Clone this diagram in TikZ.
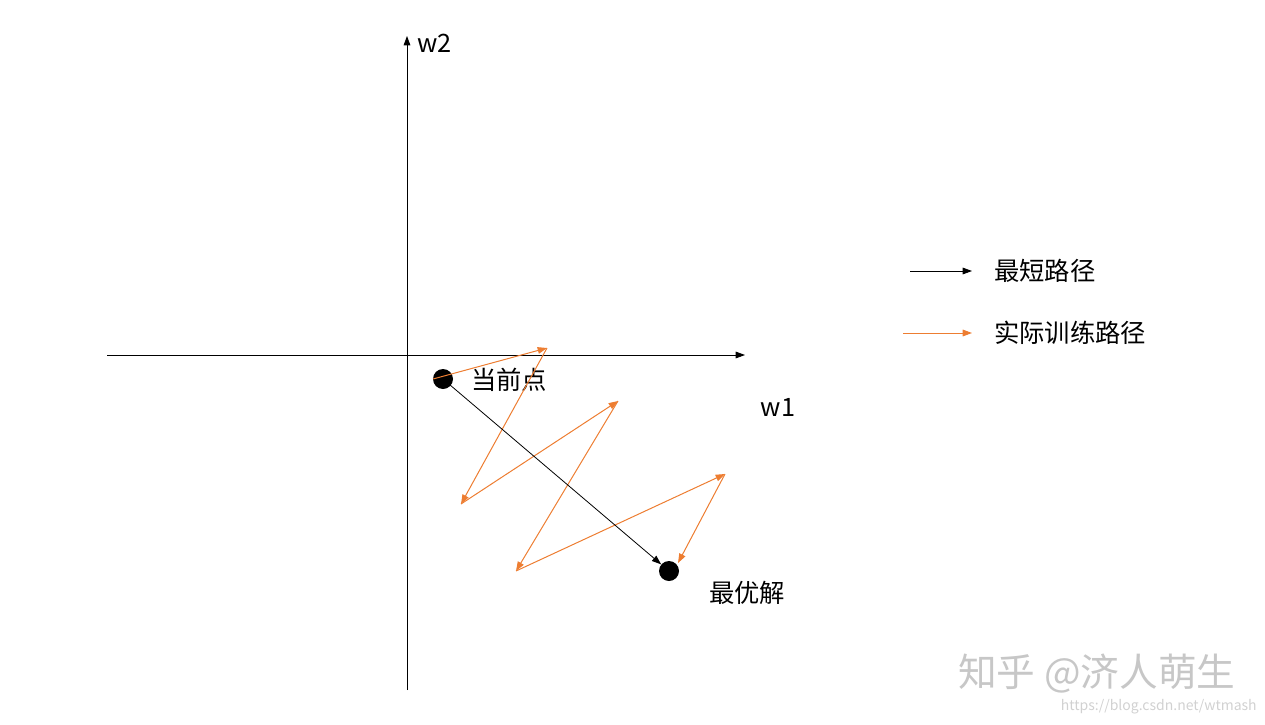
\documentclass[tikz,border=0pt]{standalone}
\usepackage{fontspec}
\setmainfont{Noto Sans CJK SC}
\usetikzlibrary{arrows.meta}
\definecolor{orng}{RGB}{237,125,49}
\begin{document}
\begin{tikzpicture}[x=0.75pt,y=-0.75pt,
  axis/.style={draw=black,line width=0.6pt,-{Triangle[length=7pt,width=5pt]}},
  blk/.style={draw=black,line width=0.6pt,-{Triangle[length=7pt,width=5pt]}},
  org/.style={draw=orng,line width=0.75pt,-{Triangle[length=7pt,width=5pt]}},
  lbl/.style={font=\fontsize{19pt}{22pt}\selectfont,inner sep=0pt},
  dot/.style={circle,fill=black,minimum size=15pt,inner sep=0pt}]
\useasboundingbox (0,0) rectangle (1265,725);
% axes
\coordinate (xl) at (107,355);
\coordinate (xr) at (745,355);
\coordinate (yb) at (407,690);
\coordinate (yt) at (407,36);
\draw[axis] (xl) -- (xr);
\draw[axis] (yb) -- (yt);
\node[lbl,anchor=west] (w2) at (417,43) {w2};
\node[lbl] (w1) at (778,407) {w1};
% points
\node[dot] (cur) at (443,379) {};
\node[dot] (opt) at (669,571) {};
\node[lbl] (curl) at (509,380) {当前点};
\node[lbl] (optl) at (747,593) {最优解};
% zigzag path
\coordinate (p0) at (433,379);
\coordinate (p1) at (547,348);
\coordinate (p2) at (461,504);
\coordinate (p3) at (618,401);
\coordinate (p4) at (516,571);
\coordinate (p5) at (725,474);
\coordinate (p6) at (678,563);
\draw[org] (p0) -- (p1);
\draw[org] (p1) -- (p2);
\draw[org] (p2) -- (p3);
\draw[org] (p3) -- (p4);
\draw[org] (p4) -- (p5);
\draw[org] (p5) -- (p6);
% shortest path
\draw[blk] (cur.center) -- (opt);
% legend
\coordinate (la) at (910,271);
\coordinate (lb) at (972,271);
\coordinate (lc) at (903,333);
\coordinate (ld) at (972,333);
\draw[blk] (la) -- (lb);
\draw[org] (lc) -- (ld);
\node[lbl,anchor=west] (leg1) at (994,271) {最短路径};
\node[lbl,anchor=west] (leg2) at (994,333) {实际训练路径};
% watermark
\node[font=\fontsize{29pt}{32pt}\selectfont,text=black!22,anchor=west,inner sep=0pt] (wm) at (958,674) {知乎 @济人萌生};
\node[font=\fontsize{10.5pt}{12pt}\selectfont,text=black!18,anchor=east,inner sep=0pt] (url) at (1257,707) {https://blog.csdn.net/wtmash};
\end{tikzpicture}
\end{document}
